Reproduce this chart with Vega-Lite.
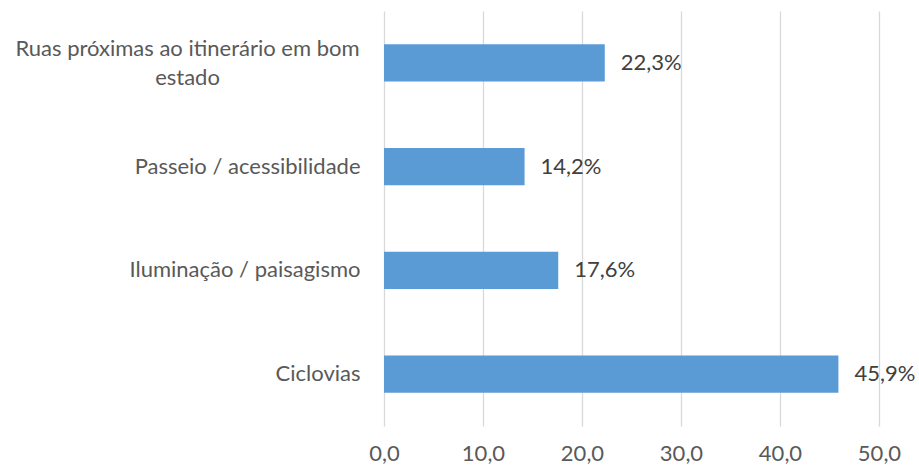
{
  "$schema": "https://vega.github.io/schema/vega-lite/v6.json",
  "autosize": {"type": "none"},
  "padding": {"left": 384, "top": 11, "right": 40, "bottom": 42},
  "width": 495,
  "height": 415,
  "background": "white",
  "data": {
    "values": [
      {"categoria": "Ruas próximas ao itinerário em bom estado", "valor": 22.3},
      {"categoria": "Passeio / acessibilidade", "valor": 14.2},
      {"categoria": "Iluminação / paisagismo", "valor": 17.6},
      {"categoria": "Ciclovias", "valor": 45.9}
    ]
  },
  "encoding": {
    "y": {
      "field": "categoria",
      "type": "nominal",
      "sort": null,
      "scale": {"paddingInner": 0.643, "paddingOuter": 0.3215},
      "axis": {
        "title": null,
        "domain": false,
        "ticks": false,
        "tickSize": 0,
        "labelFont": "Lato",
        "labelFontSize": 22,
        "labelColor": "#595959",
        "labelLimit": 500,
        "labelLineHeight": 29,
        "labelBaseline": "middle",
        "labelAlign": {"condition": {"test": "datum.value == 'Ruas próximas ao itinerário em bom estado'", "value": "center"}, "value": "right"},
        "labelPadding": {"condition": {"test": "datum.value == 'Ruas próximas ao itinerário em bom estado'", "value": 197}, "value": 24},
        "labelOffset": {"condition": {"test": "datum.value == 'Ruas próximas ao itinerário em bom estado'", "value": -14}, "value": 0},
        "labelExpr": "datum.value == 'Ruas próximas ao itinerário em bom estado' ? ['Ruas próximas ao itinerário em bom', 'estado'] : datum.value"
      }
    },
    "x": {
      "field": "valor",
      "type": "quantitative",
      "scale": {"domain": [0, 50], "nice": false},
      "axis": {
        "title": null,
        "values": [0, 10, 20, 30, 40, 50],
        "domain": false,
        "ticks": false,
        "tickSize": 0,
        "grid": true,
        "gridColor": "#D9D9D9",
        "gridWidth": 1.3,
        "labelFont": "Lato",
        "labelFontSize": 22,
        "labelColor": "#595959",
        "labelPadding": 17,
        "labelFlush": false,
        "labelExpr": "replace(format(datum.value, '.1f'), '.', ',')"
      }
    }
  },
  "layer": [
    {"mark": {"type": "bar", "color": "#5B9BD5"}},
    {
      "transform": [{"calculate": "replace(format(datum.valor, '.1f'), '.', ',') + '%'", "as": "rotulo"}],
      "mark": {"type": "text", "align": "left", "baseline": "middle", "dx": 16, "font": "Lato", "fontSize": 22, "color": "#404040"},
      "encoding": {"text": {"field": "rotulo"}}
    }
  ],
  "config": {"view": {"stroke": null}}
}
